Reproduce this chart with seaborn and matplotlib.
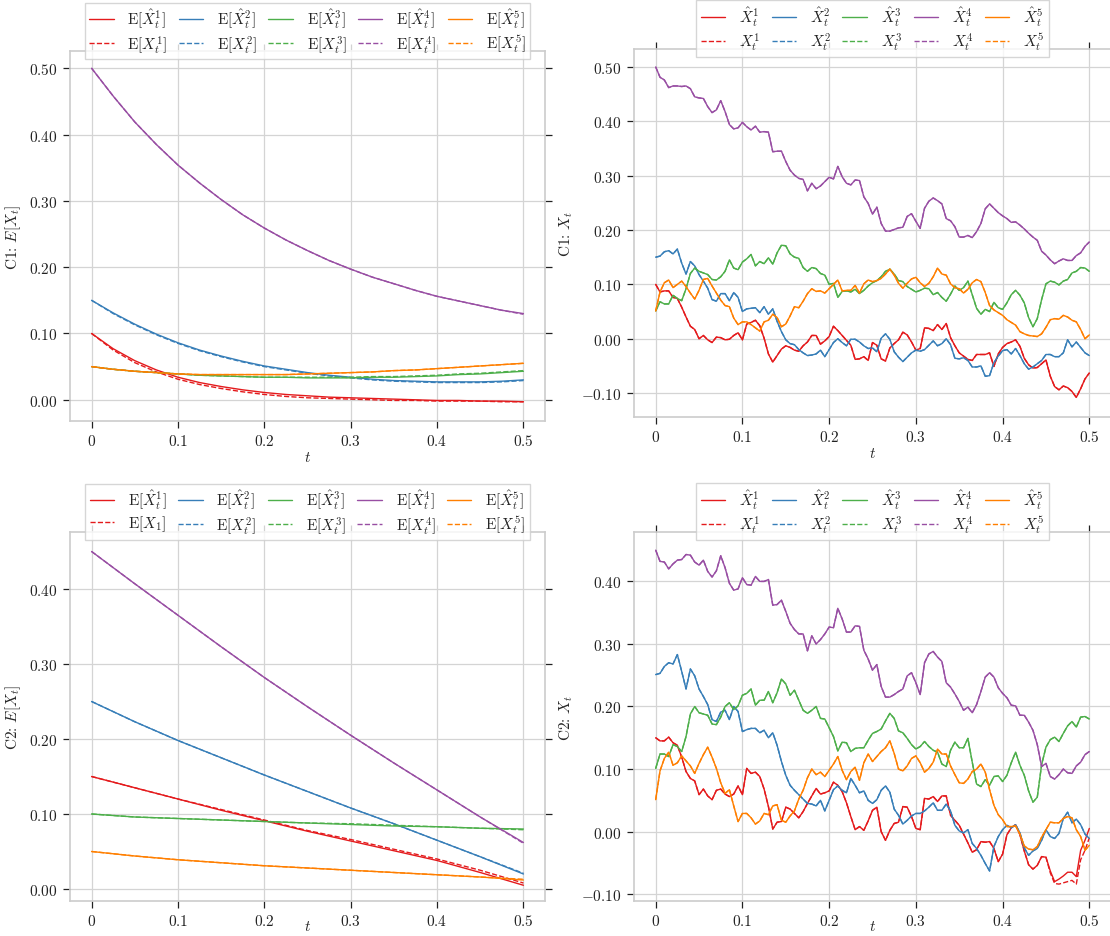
import numpy as np
import matplotlib
matplotlib.use("Agg")
import matplotlib.pyplot as plt
from matplotlib.ticker import FuncFormatter, MultipleLocator
import seaborn as sns

# ---------------- data ----------------
t_c1_mean = np.linspace(0, 0.5, 21)
t_c2_mean = np.linspace(0, 0.5, 11)
t_path = np.linspace(0, 0.5, 101)

# C1 expectations (solid: estimated, dashed: true)
c1_mhat_1 = [0.100, 0.077, 0.059, 0.045, 0.034, 0.026, 0.020, 0.015, 0.011, 0.008, 0.006,
             0.004, 0.003, 0.002, 0.001, 0.000, -0.001, -0.001, -0.002, -0.002, -0.003]
c1_mhat_2 = [0.150, 0.131, 0.114, 0.099, 0.086, 0.075, 0.066, 0.058, 0.051, 0.046, 0.041,
             0.037, 0.034, 0.031, 0.029, 0.028, 0.027, 0.027, 0.027, 0.028, 0.030]
c1_mhat_3 = [0.050, 0.046, 0.043, 0.041, 0.039, 0.037, 0.036, 0.035, 0.034, 0.034, 0.033,
             0.033, 0.033, 0.034, 0.034, 0.035, 0.036, 0.038, 0.039, 0.041, 0.043]
c1_mhat_4 = [0.500, 0.458, 0.419, 0.385, 0.354, 0.327, 0.302, 0.279, 0.259, 0.241, 0.225,
             0.210, 0.197, 0.185, 0.175, 0.165, 0.156, 0.149, 0.142, 0.135, 0.130]
c1_mhat_5 = [0.050, 0.046, 0.043, 0.041, 0.039, 0.038, 0.038, 0.038, 0.038, 0.038, 0.039,
             0.040, 0.041, 0.042, 0.044, 0.045, 0.047, 0.049, 0.051, 0.053, 0.055]
c1_mtrue_1 = [0.100, 0.075, 0.056, 0.042, 0.031, 0.023, 0.017, 0.012, 0.008, 0.005, 0.003,
              0.002, 0.001, 0.000, -0.001, -0.001, -0.002, -0.002, -0.002, -0.003, -0.003]
c1_mtrue_2 = [0.150, 0.130, 0.113, 0.098, 0.085, 0.074, 0.065, 0.057, 0.050, 0.045, 0.040,
              0.036, 0.033, 0.030, 0.028, 0.027, 0.026, 0.026, 0.026, 0.027, 0.029]
c1_mtrue_3 = [0.050, 0.046, 0.043, 0.041, 0.039, 0.037, 0.036, 0.035, 0.034, 0.034, 0.034,
              0.034, 0.034, 0.035, 0.035, 0.036, 0.037, 0.039, 0.040, 0.042, 0.044]
c1_mtrue_4 = [0.500, 0.458, 0.419, 0.385, 0.354, 0.327, 0.302, 0.279, 0.259, 0.241, 0.225,
              0.210, 0.197, 0.185, 0.175, 0.165, 0.156, 0.149, 0.142, 0.135, 0.129]
c1_mtrue_5 = [0.050, 0.046, 0.043, 0.041, 0.039, 0.038, 0.038, 0.038, 0.038, 0.038, 0.039,
              0.040, 0.041, 0.042, 0.044, 0.045, 0.047, 0.049, 0.051, 0.053, 0.055]

# C2 expectations
c2_mhat_1 = [0.150, 0.135, 0.120, 0.105, 0.091, 0.077, 0.064, 0.051, 0.038, 0.022, 0.005]
c2_mhat_2 = [0.250, 0.223, 0.198, 0.175, 0.152, 0.130, 0.108, 0.087, 0.065, 0.043, 0.020]
c2_mhat_3 = [0.100, 0.096, 0.094, 0.092, 0.090, 0.088, 0.086, 0.084, 0.083, 0.081, 0.080]
c2_mhat_4 = [0.450, 0.407, 0.365, 0.323, 0.282, 0.243, 0.205, 0.168, 0.132, 0.096, 0.062]
c2_mhat_5 = [0.050, 0.044, 0.039, 0.035, 0.031, 0.028, 0.025, 0.022, 0.019, 0.016, 0.012]
c2_mtrue_1 = [0.150, 0.135, 0.120, 0.106, 0.092, 0.078, 0.066, 0.053, 0.040, 0.025, 0.008]
c2_mtrue_2 = [0.250, 0.223, 0.198, 0.175, 0.152, 0.130, 0.108, 0.087, 0.065, 0.043, 0.021]
c2_mtrue_3 = [0.100, 0.096, 0.094, 0.092, 0.090, 0.088, 0.087, 0.085, 0.083, 0.081, 0.079]
c2_mtrue_4 = [0.450, 0.407, 0.365, 0.323, 0.282, 0.243, 0.205, 0.168, 0.132, 0.096, 0.061]
c2_mtrue_5 = [0.050, 0.044, 0.039, 0.035, 0.031, 0.028, 0.025, 0.022, 0.019, 0.016, 0.013]

# C1 sample paths (dt = 0.005)
c1_path_1 = [0.100, 0.086, 0.088, 0.088, 0.076, 0.074, 0.058, 0.040, 0.023, 0.017,
             0.000, 0.006, -0.002, -0.007, 0.003, 0.002, -0.002, -0.001, 0.006, 0.011,
             -0.002, 0.027, 0.030, 0.034, 0.024, 0.001, -0.028, -0.043, -0.031, -0.019,
             -0.013, -0.016, -0.021, -0.023, -0.013, -0.006, 0.006, 0.006, -0.010, -0.004,
             0.004, 0.023, 0.015, 0.006, -0.003, -0.012, -0.038, -0.037, -0.033, -0.040,
             -0.007, -0.012, -0.037, -0.041, -0.017, -0.009, -0.002, 0.012, 0.007, -0.006,
             -0.021, -0.018, 0.020, 0.019, 0.015, 0.026, 0.017, 0.028, 0.002, -0.013,
             -0.026, -0.032, -0.038, -0.040, -0.029, -0.029, -0.029, -0.026, -0.051, -0.028,
             -0.016, -0.009, -0.006, -0.002, -0.014, -0.036, -0.048, -0.054, -0.053, -0.046,
             -0.039, -0.069, -0.088, -0.094, -0.087, -0.090, -0.097, -0.108, -0.092, -0.074,
             -0.063]
c1_path_2 = [0.150, 0.152, 0.160, 0.162, 0.156, 0.165, 0.139, 0.119, 0.142, 0.134,
             0.118, 0.106, 0.093, 0.072, 0.069, 0.083, 0.083, 0.070, 0.085, 0.076,
             0.050, 0.055, 0.056, 0.057, 0.048, 0.059, 0.045, 0.055, 0.032, 0.013,
             -0.002, -0.009, -0.011, -0.020, -0.026, -0.031, -0.030, -0.028, -0.021, -0.033,
             -0.020, -0.007, 0.000, -0.007, -0.013, -0.001, -0.001, -0.006, -0.013, -0.018,
             -0.017, -0.024, 0.001, 0.009, -0.001, -0.024, -0.034, -0.042, -0.034, -0.026,
             -0.021, -0.023, -0.020, -0.012, -0.004, -0.013, -0.009, 0.000, -0.011, -0.036,
             -0.037, -0.035, -0.040, -0.052, -0.052, -0.050, -0.069, -0.068, -0.044, -0.032,
             -0.022, -0.020, -0.028, -0.018, -0.031, -0.046, -0.056, -0.052, -0.046, -0.040,
             -0.029, -0.029, -0.033, -0.033, -0.026, -0.002, -0.015, -0.006, -0.016, -0.026,
             -0.031]
c1_path_3 = [0.051, 0.068, 0.064, 0.064, 0.080, 0.074, 0.070, 0.092, 0.120, 0.130,
             0.124, 0.121, 0.118, 0.109, 0.108, 0.114, 0.124, 0.145, 0.130, 0.127,
             0.141, 0.147, 0.155, 0.134, 0.142, 0.138, 0.149, 0.137, 0.158, 0.172,
             0.171, 0.156, 0.150, 0.148, 0.131, 0.124, 0.131, 0.129, 0.120, 0.117,
             0.100, 0.102, 0.076, 0.087, 0.088, 0.086, 0.091, 0.083, 0.089, 0.097,
             0.103, 0.107, 0.114, 0.124, 0.128, 0.119, 0.107, 0.105, 0.096, 0.091,
             0.086, 0.089, 0.093, 0.092, 0.081, 0.085, 0.076, 0.069, 0.082, 0.097,
             0.089, 0.094, 0.106, 0.081, 0.056, 0.045, 0.054, 0.050, 0.067, 0.057,
             0.054, 0.066, 0.081, 0.089, 0.080, 0.066, 0.039, 0.022, 0.037, 0.072,
             0.101, 0.106, 0.104, 0.099, 0.106, 0.109, 0.121, 0.124, 0.131, 0.130,
             0.124]
c1_path_4 = [0.500, 0.481, 0.476, 0.462, 0.465, 0.465, 0.464, 0.465, 0.460, 0.445,
             0.443, 0.442, 0.427, 0.416, 0.421, 0.438, 0.418, 0.394, 0.386, 0.388,
             0.398, 0.390, 0.384, 0.391, 0.380, 0.381, 0.380, 0.344, 0.345, 0.345,
             0.326, 0.310, 0.301, 0.295, 0.293, 0.272, 0.286, 0.276, 0.281, 0.289,
             0.297, 0.294, 0.317, 0.298, 0.286, 0.283, 0.292, 0.291, 0.261, 0.249,
             0.229, 0.242, 0.212, 0.198, 0.198, 0.201, 0.204, 0.205, 0.225, 0.230,
             0.216, 0.203, 0.240, 0.253, 0.259, 0.254, 0.248, 0.221, 0.217, 0.206,
             0.187, 0.187, 0.190, 0.186, 0.197, 0.212, 0.239, 0.248, 0.240, 0.232,
             0.226, 0.221, 0.214, 0.215, 0.209, 0.202, 0.194, 0.187, 0.181, 0.161,
             0.154, 0.145, 0.138, 0.143, 0.147, 0.144, 0.144, 0.153, 0.158, 0.170,
             0.178]
c1_path_5 = [0.051, 0.086, 0.103, 0.108, 0.094, 0.100, 0.106, 0.096, 0.084, 0.073,
             0.089, 0.109, 0.111, 0.097, 0.084, 0.071, 0.061, 0.059, 0.038, 0.026,
             0.031, 0.031, 0.026, 0.020, 0.014, 0.031, 0.034, 0.045, 0.039, 0.022,
             0.027, 0.042, 0.059, 0.057, 0.069, 0.083, 0.092, 0.087, 0.088, 0.084,
             0.092, 0.100, 0.108, 0.088, 0.089, 0.089, 0.098, 0.084, 0.101, 0.108,
             0.105, 0.107, 0.111, 0.119, 0.128, 0.117, 0.102, 0.093, 0.102, 0.110,
             0.113, 0.103, 0.096, 0.102, 0.114, 0.130, 0.119, 0.117, 0.101, 0.094,
             0.092, 0.084, 0.091, 0.103, 0.109, 0.105, 0.085, 0.061, 0.053, 0.048,
             0.043, 0.035, 0.030, 0.025, 0.013, 0.009, 0.006, 0.005, 0.004, 0.009,
             0.021, 0.035, 0.037, 0.036, 0.043, 0.040, 0.034, 0.031, 0.017, 0.000,
             0.007]

# C2 sample paths (dt = 0.005)
c2_path_1 = [0.150, 0.145, 0.145, 0.151, 0.142, 0.138, 0.119, 0.096, 0.085, 0.081,
             0.059, 0.068, 0.057, 0.051, 0.066, 0.068, 0.060, 0.056, 0.060, 0.073,
             0.059, 0.101, 0.093, 0.095, 0.088, 0.068, 0.040, 0.004, 0.015, 0.016,
             0.039, 0.036, 0.029, 0.022, 0.032, 0.045, 0.057, 0.069, 0.060, 0.062,
             0.065, 0.079, 0.074, 0.064, 0.046, 0.024, 0.003, 0.008, 0.002, 0.017,
             0.034, 0.039, 0.000, -0.014, 0.002, 0.013, 0.015, 0.040, 0.039, 0.024,
             0.005, 0.003, 0.053, 0.052, 0.056, 0.048, 0.057, 0.057, 0.026, 0.018,
             0.010, -0.004, -0.018, -0.033, -0.029, -0.016, -0.017, -0.016, -0.027, -0.048,
             -0.036, -0.005, 0.006, 0.011, -0.005, -0.031, -0.053, -0.060, -0.054, -0.040,
             -0.041, -0.063, -0.080, -0.076, -0.071, -0.065, -0.065, -0.072, -0.030, -0.014,
             0.005]
c2_true_1 = [0.150, 0.145, 0.145, 0.151, 0.142, 0.138, 0.119, 0.096, 0.085, 0.081,
             0.059, 0.068, 0.057, 0.051, 0.066, 0.068, 0.060, 0.056, 0.060, 0.073,
             0.059, 0.101, 0.093, 0.095, 0.088, 0.068, 0.040, 0.004, 0.015, 0.016,
             0.039, 0.036, 0.029, 0.022, 0.032, 0.045, 0.057, 0.069, 0.060, 0.062,
             0.065, 0.079, 0.074, 0.064, 0.046, 0.024, 0.003, 0.008, 0.002, 0.017,
             0.034, 0.039, 0.000, -0.014, 0.002, 0.013, 0.015, 0.040, 0.039, 0.024,
             0.005, 0.003, 0.053, 0.052, 0.056, 0.048, 0.057, 0.057, 0.026, 0.018,
             0.010, -0.004, -0.018, -0.033, -0.029, -0.016, -0.017, -0.016, -0.027, -0.048,
             -0.036, -0.005, 0.006, 0.011, -0.005, -0.031, -0.053, -0.060, -0.054, -0.040,
             -0.041, -0.066, -0.083, -0.084, -0.082, -0.080, -0.078, -0.084, -0.045, -0.030,
             -0.010]
c2_path_2 = [0.251, 0.253, 0.264, 0.270, 0.268, 0.283, 0.256, 0.228, 0.260, 0.249,
             0.228, 0.216, 0.203, 0.179, 0.176, 0.191, 0.194, 0.179, 0.200, 0.192,
             0.160, 0.163, 0.165, 0.165, 0.158, 0.162, 0.150, 0.158, 0.138, 0.112,
             0.090, 0.074, 0.066, 0.059, 0.052, 0.045, 0.044, 0.041, 0.050, 0.033,
             0.050, 0.067, 0.073, 0.066, 0.062, 0.085, 0.074, 0.062, 0.065, 0.050,
             0.045, 0.051, 0.066, 0.073, 0.063, 0.036, 0.026, 0.012, 0.018, 0.025,
             0.029, 0.029, 0.033, 0.039, 0.046, 0.034, 0.034, 0.044, 0.033, 0.010,
             0.001, -0.002, 0.003, -0.019, -0.027, -0.038, -0.051, -0.063, -0.024, -0.008,
             0.003, 0.010, 0.006, 0.011, -0.002, -0.026, -0.038, -0.031, -0.027, -0.014,
             0.003, -0.008, -0.011, -0.003, 0.021, 0.031, 0.014, 0.020, 0.011, -0.004,
             -0.011]
c2_path_3 = [0.101, 0.124, 0.124, 0.120, 0.139, 0.136, 0.128, 0.152, 0.188, 0.200,
             0.190, 0.188, 0.186, 0.172, 0.171, 0.183, 0.200, 0.206, 0.195, 0.201,
             0.218, 0.221, 0.228, 0.202, 0.210, 0.210, 0.224, 0.206, 0.222, 0.244,
             0.236, 0.218, 0.226, 0.210, 0.194, 0.189, 0.194, 0.200, 0.181, 0.180,
             0.166, 0.152, 0.129, 0.143, 0.142, 0.128, 0.133, 0.134, 0.134, 0.146,
             0.157, 0.160, 0.164, 0.177, 0.189, 0.181, 0.161, 0.158, 0.149, 0.139,
             0.132, 0.136, 0.144, 0.136, 0.130, 0.127, 0.108, 0.104, 0.130, 0.143,
             0.134, 0.134, 0.149, 0.111, 0.076, 0.072, 0.083, 0.074, 0.088, 0.089,
             0.080, 0.090, 0.110, 0.127, 0.106, 0.090, 0.065, 0.047, 0.055, 0.107,
             0.135, 0.147, 0.151, 0.144, 0.157, 0.169, 0.176, 0.167, 0.183, 0.184,
             0.180]
c2_path_4 = [0.450, 0.432, 0.431, 0.420, 0.428, 0.434, 0.435, 0.443, 0.442, 0.431,
             0.426, 0.434, 0.416, 0.407, 0.417, 0.441, 0.422, 0.397, 0.386, 0.388,
             0.406, 0.395, 0.394, 0.408, 0.400, 0.400, 0.403, 0.362, 0.363, 0.370,
             0.352, 0.333, 0.323, 0.316, 0.316, 0.289, 0.313, 0.300, 0.307, 0.316,
             0.327, 0.326, 0.357, 0.340, 0.319, 0.319, 0.329, 0.328, 0.290, 0.276,
             0.258, 0.267, 0.232, 0.215, 0.215, 0.219, 0.224, 0.228, 0.249, 0.254,
             0.238, 0.219, 0.270, 0.284, 0.288, 0.279, 0.272, 0.238, 0.231, 0.220,
             0.208, 0.194, 0.199, 0.190, 0.203, 0.224, 0.247, 0.254, 0.247, 0.230,
             0.221, 0.214, 0.202, 0.201, 0.186, 0.186, 0.175, 0.162, 0.139, 0.104,
             0.109, 0.088, 0.084, 0.091, 0.100, 0.094, 0.093, 0.105, 0.111, 0.123,
             0.128]
c2_path_5 = [0.051, 0.097, 0.117, 0.127, 0.106, 0.110, 0.121, 0.113, 0.105, 0.093,
             0.109, 0.123, 0.135, 0.119, 0.101, 0.078, 0.061, 0.067, 0.041, 0.016,
             0.029, 0.029, 0.022, 0.012, 0.017, 0.029, 0.027, 0.041, 0.043, 0.018,
             0.015, 0.025, 0.033, 0.052, 0.066, 0.086, 0.100, 0.091, 0.095, 0.088,
             0.098, 0.108, 0.120, 0.098, 0.083, 0.096, 0.103, 0.082, 0.110, 0.124,
             0.112, 0.120, 0.128, 0.134, 0.145, 0.125, 0.100, 0.097, 0.105, 0.117,
             0.121, 0.110, 0.095, 0.101, 0.111, 0.132, 0.124, 0.124, 0.105, 0.091,
             0.078, 0.077, 0.084, 0.096, 0.100, 0.108, 0.095, 0.067, 0.042, 0.027,
             0.019, 0.008, 0.008, 0.009, -0.004, -0.023, -0.028, -0.029, -0.024, -0.009,
             0.003, 0.015, 0.014, 0.014, 0.021, 0.024, 0.022, 0.003, -0.008, -0.030,
             -0.022]

colors = ["#e41a1c", "#377eb8", "#4daf4a", "#984ea3", "#ff7f00"]

lab_mhat = [r"E[$\hat{X}^{%d}_t$]" % i for i in range(1, 6)]
lab_mtrue_c1 = [r"E[$X^{%d}_t$]" % i for i in range(1, 6)]
lab_mtrue_c2 = [r"E[$X_1$]"] + [r"E[$X^{%d}_t$]" % i for i in range(2, 6)]
lab_phat = [r"$\hat{X}^{%d}_t$" % i for i in range(1, 6)]
lab_ptrue = [r"$X^{%d}_t$" % i for i in range(1, 6)]

# ---------------- style ----------------
sns.set_theme(style="whitegrid")
plt.rcParams.update({
    "font.family": ["cmr10", "DejaVu Serif"],
    "mathtext.fontset": "cm",
    "axes.formatter.use_mathtext": True,
    "axes.unicode_minus": False,
    "axes.edgecolor": "#cccccc",
    "axes.linewidth": 1.2,
    "grid.color": "#d4d4d4",
    "grid.linewidth": 0.9,
})

fig = plt.figure(figsize=(11.1, 9.37), dpi=100)
W, H = 1110.0, 937.0


def box(l, t, r, b):
    return [l / W, 1 - b / H, (r - l) / W, (b - t) / H]


ax_tl = fig.add_axes(box(70, 52, 545, 422))
ax_tr = fig.add_axes(box(634, 50, 1111, 418))
ax_bl = fig.add_axes(box(70, 533, 545, 902))
ax_br = fig.add_axes(box(634, 533, 1111, 902))

yfmt = FuncFormatter(lambda v, p: "$%.2f$" % (0.0 if abs(v) < 1e-9 else v))
xfmt = FuncFormatter(lambda v, p: "$%g$" % (0.0 if abs(v) < 1e-9 else round(v, 3)))


def draw(ax, t_s, solids, t_d, dashes, lab_s, lab_d, ylabel, ylim, xpad):
    handles = []
    labels = []
    for i in range(5):
        sns.lineplot(x=t_s, y=solids[i], ax=ax, color=colors[i], lw=1.0,
                     legend=False, errorbar=None)
        hs = ax.get_lines()[-1]
        sns.lineplot(x=t_d, y=dashes[i], ax=ax, color=colors[i], lw=1.0,
                     linestyle="--", legend=False, errorbar=None)
        hd = ax.get_lines()[-1]
        handles += [hs, hd]
        labels += [lab_s[i], lab_d[i]]
    ax.set_xlim(-0.025, 0.525)
    ax.set_ylim(*ylim)
    ax.xaxis.set_major_locator(MultipleLocator(0.1))
    ax.yaxis.set_major_locator(MultipleLocator(0.1))
    ax.xaxis.set_major_formatter(xfmt)
    ax.yaxis.set_major_formatter(yfmt)
    ax.tick_params(axis="both", which="major", direction="out", length=5, width=0.9,
                   color="#222222", top=True, right=True, bottom=True, left=True,
                   labelsize=11, pad=4, labelcolor="#222222")
    ax.set_xlabel(r"$t$", fontsize=11, labelpad=xpad)
    ax.set_ylabel(ylabel, fontsize=11, labelpad=4)
    leg = ax.legend(handles, labels, ncol=5, loc="lower center",
                    bbox_to_anchor=(0.5, 0.978), fontsize=11, frameon=True,
                    framealpha=0.8, edgecolor="#cccccc", fancybox=False,
                    handlelength=1.6, handletextpad=0.9, columnspacing=0.75,
                    labelspacing=0.15, borderpad=0.3, borderaxespad=0.0)
    leg.get_frame().set_linewidth(1.0)
    for s in ax.spines.values():
        s.set_color("#cccccc")


draw(ax_tl, t_c1_mean, [c1_mhat_1, c1_mhat_2, c1_mhat_3, c1_mhat_4, c1_mhat_5],
     t_c1_mean, [c1_mtrue_1, c1_mtrue_2, c1_mtrue_3, c1_mtrue_4, c1_mtrue_5],
     lab_mhat, lab_mtrue_c1, r"C1: $E[X_t]$", (-0.032, 0.526), 1)
draw(ax_tr, t_path, [c1_path_1, c1_path_2, c1_path_3, c1_path_4, c1_path_5],
     t_path, [c1_path_1, c1_path_2, c1_path_3, c1_path_4, c1_path_5],
     lab_phat, lab_ptrue, r"C1: $X_t$", (-0.144, 0.533), 1)
draw(ax_bl, t_c2_mean, [c2_mhat_1, c2_mhat_2, c2_mhat_3, c2_mhat_4, c2_mhat_5],
     t_c2_mean, [c2_mtrue_1, c2_mtrue_2, c2_mtrue_3, c2_mtrue_4, c2_mtrue_5],
     lab_mhat, lab_mtrue_c2, r"C2: $E[X_t]$", (-0.016, 0.476), -7)
draw(ax_br, t_path, [c2_path_1, c2_path_2, c2_path_3, c2_path_4, c2_path_5],
     t_path, [c2_true_1, c2_path_2, c2_path_3, c2_path_4, c2_path_5],
     lab_phat, lab_ptrue, r"C2: $X_t$", (-0.111, 0.479), -7)

fig.savefig("out.png", dpi=100)
